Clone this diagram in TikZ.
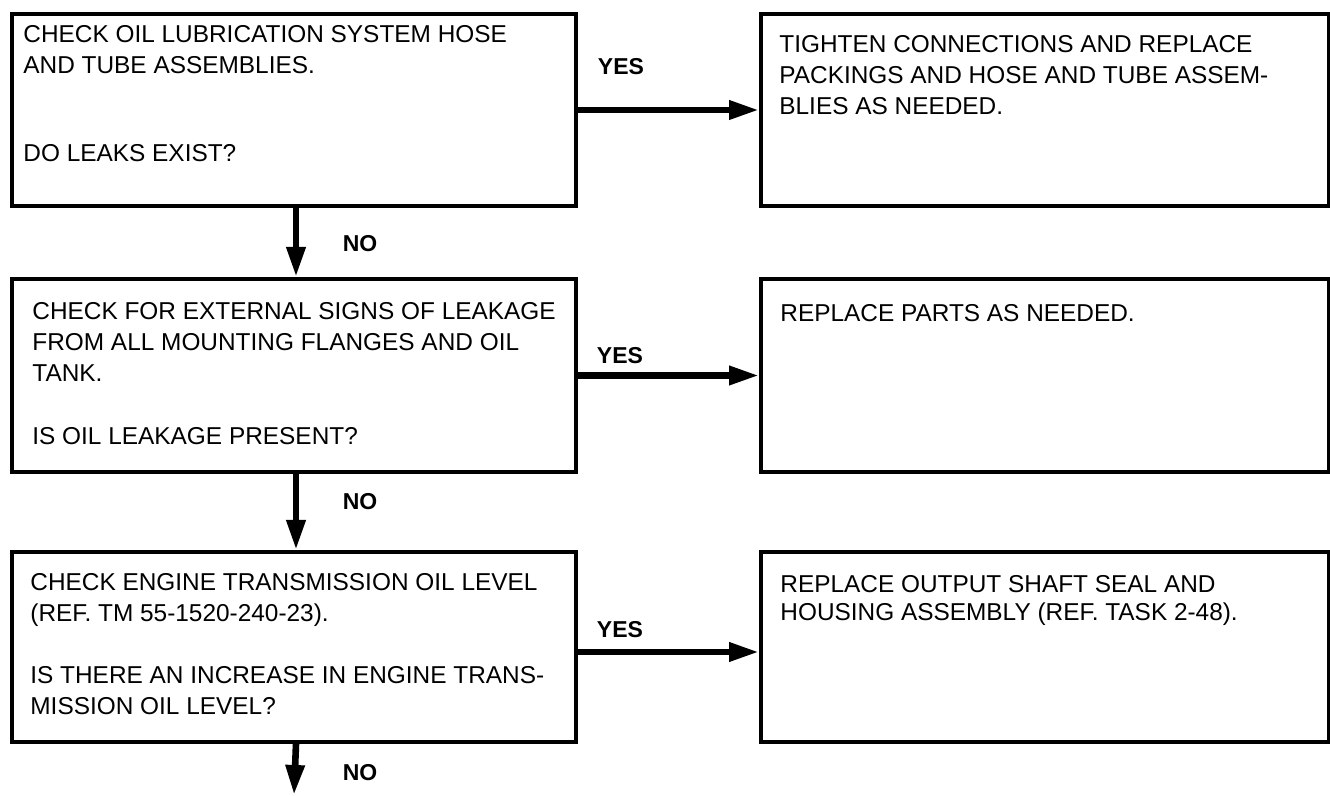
\documentclass[tikz,border=0pt]{standalone}
\usepackage{fontspec}
\setmainfont{Liberation Sans}
\usetikzlibrary{arrows.meta}
\newcommand{\firststrut}{\rule{0pt}{9.5pt}}
\begin{document}
\begin{tikzpicture}[x=0.5pt,y=-0.5pt,
 box/.style={draw, line width=2pt, rectangle, inner sep=0pt, anchor=north west},
 txt/.style={anchor=north west, inner sep=0pt, align=left, font=\fontsize{12.2pt}{15.5pt}\selectfont},
 lbl/.style={font=\fontsize{11.5pt}{13pt}\selectfont\bfseries, inner sep=0pt},
 arr/.style={line width=3.3pt, -{Triangle[length=15pt,width=9pt]}}]
\useasboundingbox (0,0) rectangle (1330,796);
% boxes
\node[box, minimum width=282pt, minimum height=96pt] (b1) at (10,12) {};
\node[box, minimum width=282pt, minimum height=96.5pt] (b2) at (10,277) {};
\node[box, minimum width=282pt, minimum height=95pt] (b3) at (10,550) {};
\node[box, minimum width=284pt, minimum height=96pt] (r1) at (759,12) {};
\node[box, minimum width=284pt, minimum height=96.5pt] (r2) at (759,277) {};
\node[box, minimum width=284pt, minimum height=95pt] (r3) at (759,550) {};
% texts
\node[txt] (t1) at (23,22.7) {\firststrut CHECK OIL LUBRICATION SYSTEM HOSE\\AND TUBE ASSEMBLIES.\\[28.5pt]DO LEAKS EXIST?};
\node[txt] (t2) at (32,299.7) {\firststrut CHECK FOR EXTERNAL SIGNS OF LEAKAGE\\FROM ALL MOUNTING FLANGES AND OIL\\TANK.\\[16pt]IS OIL LEAKAGE PRESENT?};
\node[txt] (t3) at (30,570.7) {\firststrut CHECK ENGINE TRANSMISSION OIL LEVEL\\(REF. TM 55-1520-240-23).\\[15.5pt]IS THERE AN INCREASE IN ENGINE TRANS-\\MISSION OIL LEVEL?};
\node[txt] (s1) at (779,32.7) {\firststrut TIGHTEN CONNECTIONS AND REPLACE\\PACKINGS AND HOSE AND TUBE ASSEM-\\BLIES AS NEEDED.};
\node[txt] (s2) at (780,301.7) {\firststrut REPLACE PARTS AS NEEDED.};
\node[txt, font=\fontsize{12.2pt}{14pt}\selectfont] (s3) at (780,572.7) {\firststrut REPLACE OUTPUT SHAFT SEAL AND\\HOUSING ASSEMBLY (REF. TASK 2-48).};
% labels
\node[lbl] (y1) at (621,67) {YES};
\node[lbl] (y2) at (620,356) {YES};
\node[lbl] (y3) at (620,630) {YES};
\node[lbl] (n1) at (360,244) {NO};
\node[lbl] (n2) at (360,502) {NO};
\node[lbl] (n3) at (360,773) {NO};
\coordinate (end) at (294,795);
% connectors
\draw[arr] (b1.east) -- (r1.west);
\draw[arr] (b2.east) -- (r2.west);
\draw[arr] ([yshift=-2.5pt]b3.east) -- ([yshift=-2.5pt]r3.west);
\draw[arr] ([xshift=1pt]b1.south) -- ([xshift=1pt]b2.north);
\draw[arr] ([xshift=1pt]b2.south) -- ([xshift=1pt]b3.north);
\draw[arr] ([xshift=1pt]b3.south) -- (end);
\end{tikzpicture}
\end{document}
